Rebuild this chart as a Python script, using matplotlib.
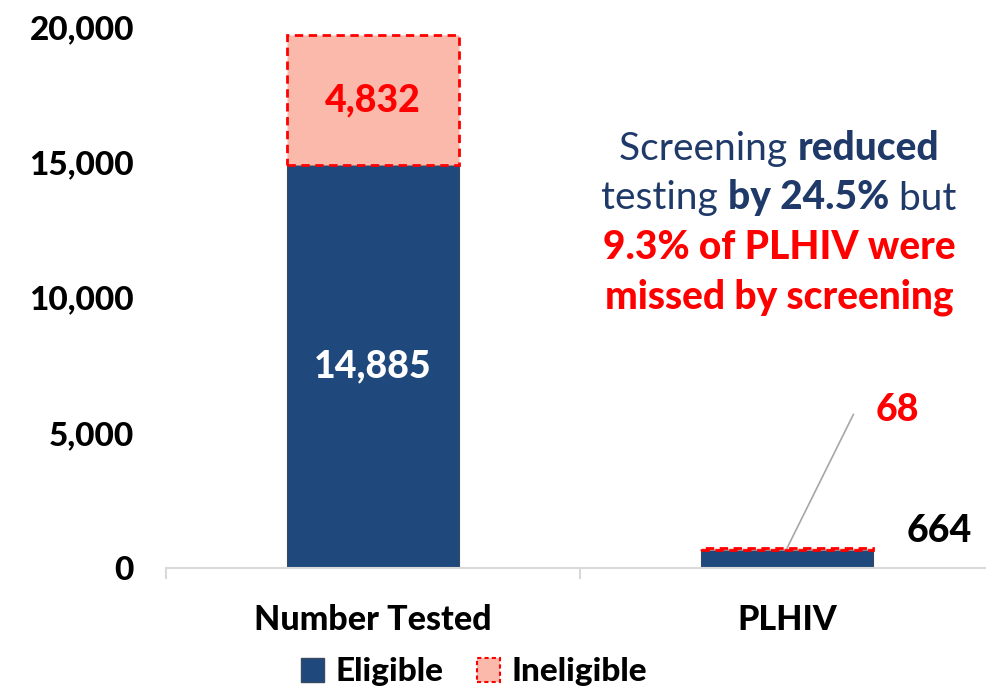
import matplotlib
matplotlib.use("Agg")
import matplotlib.pyplot as plt
from matplotlib.offsetbox import TextArea, HPacker, VPacker, AnnotationBbox
from matplotlib.patches import Patch
from matplotlib.ticker import FuncFormatter

# data
categories = ["Number Tested", "PLHIV"]
eligible = [14885, 664]
ineligible = [4832, 68]

BLUE = "#1F497D"
PINK = "#FBB9AB"
RED = "#FF0000"
NAVY = "#1F3A68"
HEAVY = 900

plt.rcParams['font.family'] = ['Lato', 'DejaVu Sans']
plt.rcParams['font.weight'] = HEAVY

fig = plt.figure(figsize=(9.86, 6.91), dpi=100)
ax = fig.add_axes([166 / 986, 123 / 691, 828 / 986, 541 / 691])

x = list(range(len(categories)))
w = 0.415
ax.bar(x, eligible, width=w, color=BLUE, edgecolor="#3A4A5E", linewidth=0.8, zorder=2)
ax.bar(x, ineligible, bottom=eligible, width=w, color=PINK, edgecolor=RED,
       linewidth=2, linestyle=(0, (3, 2)), zorder=2)

ax.set_xlim(-0.5, 1.5)
ax.set_ylim(0, 20000)
ax.set_yticks([0, 5000, 10000, 15000, 20000])
ax.yaxis.set_major_formatter(FuncFormatter(lambda v, p: "{:,.0f}".format(v)))
ax.tick_params(axis='y', length=0, pad=23, labelsize=24)
for s in ["top", "right", "left"]:
    ax.spines[s].set_visible(False)
ax.spines["bottom"].set_color("#D9D9D9")
ax.spines["bottom"].set_linewidth(1.5)

ax.set_xticks(x)
ax.set_xticklabels(categories, fontsize=24.5)
ax.tick_params(axis='x', which='major', length=0, pad=26)
ax.set_xticks([-0.5, 0.5, 1.5], minor=True)
ax.tick_params(axis='x', which='minor', length=8, width=1.5, color="#D9D9D9")

# data labels
ax.text(x[0], eligible[0] / 2, "{:,}".format(eligible[0]), ha='center', va='center',
        color='white', fontsize=27)
ax.text(x[0], eligible[0] + ineligible[0] / 2, "{:,}".format(ineligible[0]), ha='center',
        va='center', color=RED, fontsize=27)
ax.annotate("{:,}".format(eligible[1]), xy=(x[1], eligible[1]), xytext=(152, 19),
            textcoords='offset pixels', ha='center', va='center', fontsize=27, color='black')
ax.annotate("{:,}".format(ineligible[1]), xy=(x[1], eligible[1] + ineligible[1]),
            xytext=(110, 138), textcoords='offset pixels', ha='center', va='center',
            fontsize=27, color=RED,
            arrowprops=dict(arrowstyle='-', color='#A6A6A6', lw=1.2, shrinkA=14, shrinkB=0,
                            relpos=(0, 0.5),
                            connectionstyle='angle,angleA=0,angleB=63.6,rad=0'))

# commentary
def piece(s, weight, color):
    return TextArea(s, textprops=dict(fontsize=28, fontweight=weight, color=color))

lines = [
    HPacker(children=[piece("Screening ", 'normal', NAVY), piece("reduced", HEAVY, NAVY)],
            align='baseline', pad=0, sep=0),
    HPacker(children=[piece("testing ", 'normal', NAVY), piece("by 24.5%", HEAVY, NAVY),
                      piece(" but", 'normal', NAVY)], align='baseline', pad=0, sep=0),
    piece("9.3% of PLHIV were", HEAVY, RED),
    piece("missed by screening", HEAVY, RED),
]
box = VPacker(children=lines, align='center', pad=0, sep=9)
ab = AnnotationBbox(box, (779 / 986, 1 - 223 / 691), xycoords='figure fraction',
                    frameon=False, box_alignment=(0.5, 0.5))
fig.add_artist(ab)

handles = [Patch(facecolor=BLUE, edgecolor="#3A4A5E", label="Eligible"),
           Patch(facecolor=PINK, edgecolor=RED, linestyle=(0, (2, 1.5)), linewidth=1.5,
                 label="Ineligible")]
fig.legend(handles=handles, loc='center', bbox_to_anchor=(474 / 986, 1 - 672 / 691),
           ncol=2, frameon=False, fontsize=24, handlelength=0.7, handleheight=0.7,
           handletextpad=0.35, columnspacing=1.0)

fig.savefig("out.png", dpi=100)
